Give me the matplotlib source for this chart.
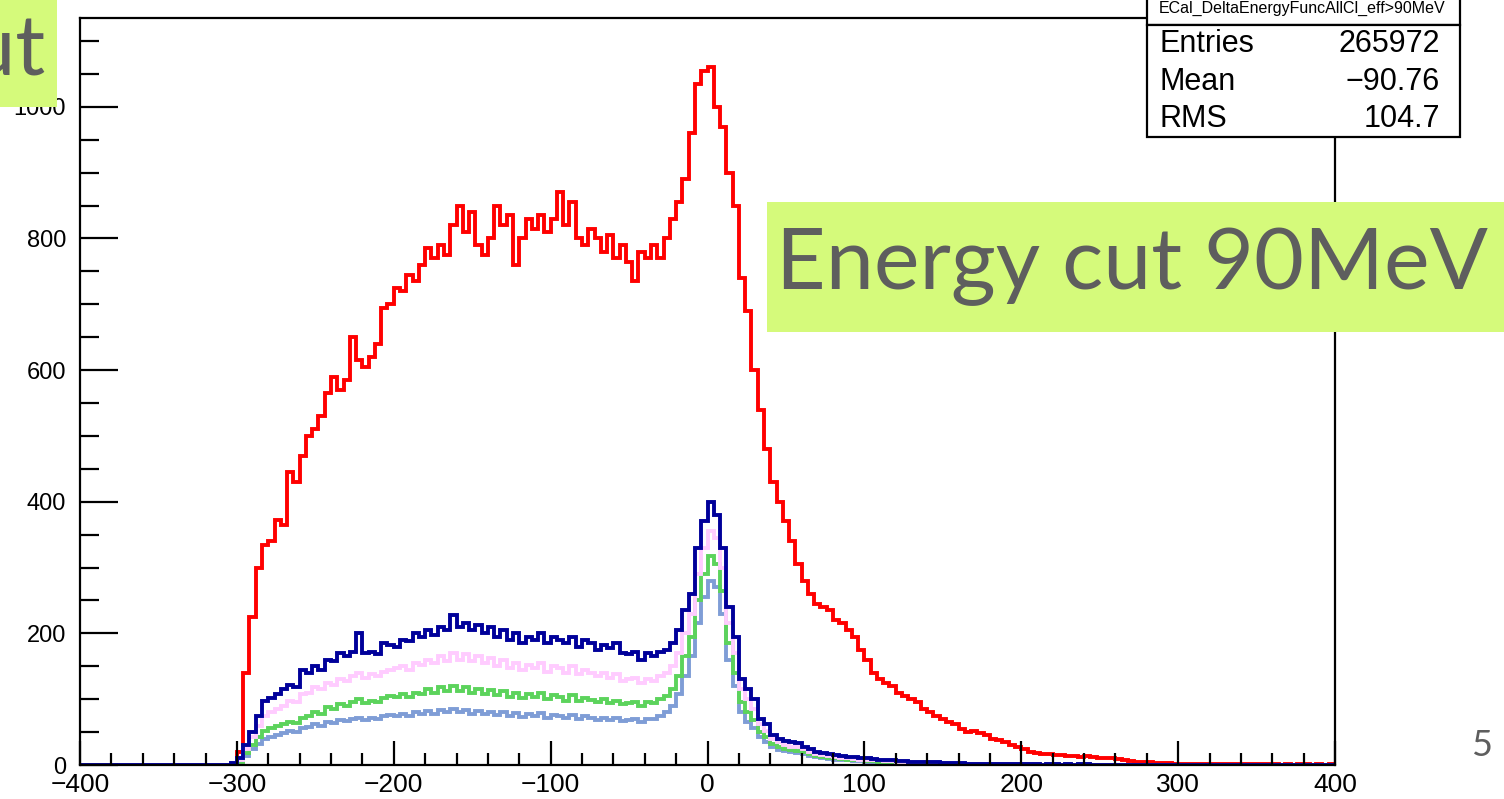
import numpy as np
import matplotlib
matplotlib.use("Agg")
import matplotlib.pyplot as plt
from matplotlib.patches import Rectangle

W, H = 1504, 799

# 200 bins of width 4 over [-400, 400]
bin_edges = np.arange(-400, 404, 4)

# Each series: first filled bin edge + counts per bin from there on
red_start = -300
red_counts = [
    20, 140, 225, 300, 335, 340, 372, 365, 445, 430, 470, 500, 510, 530, 565, 590,
    570, 585, 650, 615, 605, 620, 640, 695, 700,
    725, 720, 745, 735, 760, 785, 770, 790, 775, 820, 850, 810, 840, 790, 775, 800,
    850, 820, 835, 760, 800, 830, 815, 835, 810,
    830, 870, 820, 855, 800, 790, 815, 800, 780, 805, 770, 790, 765, 735, 780, 770,
    790, 770, 800, 830, 855, 890, 960, 1035, 1055,
    1060, 1000, 970, 900, 850, 740, 690, 600, 540, 480, 430, 400, 370, 340, 305, 280,
    260, 245, 240, 235, 220, 215, 205, 195, 175,
    160, 140, 130, 125, 120, 110, 105, 100, 95, 85, 80, 75, 70, 65, 62, 55,
    50, 52, 48, 45, 40, 38, 35, 30, 28,
    25, 20, 18, 17, 16, 15, 15, 14, 14, 12, 14, 12, 11, 10, 10, 9,
    8, 6, 5, 5, 4, 3, 3, 3, 2,
    2, 2, 1, 2, 1, 1, 2, 1, 1, 1, 1, 1, 1, 1, 1, 1, 0, 1, 0, 1, 1, 0, 1, 0, 1,
]

navy_start = -304
navy_counts = [
    3, 10, 30, 50, 75, 98, 102, 108, 115, 122, 118, 145, 140, 150, 145, 160,
    158, 170, 165, 172, 200, 170, 172, 168, 185, 182,
    180, 190, 188, 200, 195, 205, 198, 210, 205, 228, 210, 215, 205, 212, 200, 210,
    195, 205, 190, 200, 185, 195, 190, 200, 185,
    195, 190, 185, 195, 180, 190, 185, 175, 182, 178, 185, 170, 168, 172, 160, 170,
    165, 172, 175, 185, 205, 235, 260, 330, 370,
    400, 380, 330, 240, 195, 130, 115, 100, 70, 62, 45, 40, 36, 35, 33, 28,
    24, 20, 18, 16, 15, 14, 12, 12, 10,
    10, 9, 8, 8, 7, 6, 6, 5, 5, 5, 4, 4, 3, 3, 3, 3, 2, 2, 2, 2, 2, 1, 1, 1, 1,
    1, 1, 1, 0, 1, 1, 0, 1, 0, 1, 1,
]

pink_start = -304
pink_counts = [
    2, 8, 25, 42, 60, 75, 80, 85, 90, 98, 95, 108, 110, 118, 115, 125,
    122, 130, 128, 135, 140, 132, 138, 135, 142, 145,
    148, 150, 145, 155, 152, 160, 155, 165, 158, 170, 160, 168, 158, 165, 155, 162,
    150, 160, 148, 155, 145, 152, 148, 155, 142,
    150, 148, 140, 150, 138, 145, 140, 135, 140, 132, 138, 128, 130, 132, 125, 130,
    128, 135, 140, 150, 170, 200, 230, 290, 330,
    355, 345, 300, 215, 170, 115, 100, 85, 62, 52, 40, 35, 30, 28, 27, 24,
    20, 17, 15, 13, 12, 11, 10, 9, 8,
    8, 7, 7, 6, 6, 5, 5, 4, 4, 4, 3, 3, 3, 2, 2, 2, 2, 2, 1, 1, 1, 1, 1, 1, 0,
    1, 0, 1, 0, 0, 1,
]

green_start = -304
green_counts = [
    1, 5, 18, 30, 42, 52, 56, 60, 62, 66, 64, 72, 75, 80, 78, 88,
    85, 92, 90, 96, 100, 94, 98, 96, 102, 105,
    104, 108, 103, 110, 108, 115, 110, 118, 112, 120, 113, 118, 110, 116, 108, 114,
    106, 112, 104, 110, 102, 108, 104, 110, 100,
    106, 104, 98, 106, 97, 102, 99, 95, 100, 94, 98, 92, 94, 96, 90, 95,
    94, 100, 105, 115, 135, 165, 195, 250, 290,
    318, 305, 265, 185, 140, 95, 80, 68, 50, 42, 32, 28, 25, 23, 22, 19,
    16, 14, 12, 11, 10, 9, 8, 7, 7,
    6, 6, 5, 5, 4, 4, 4, 3, 3, 3, 2, 2, 2, 2, 1, 1, 1, 1, 1, 1,
]

lblue_start = -304
lblue_counts = [
    1, 4, 14, 24, 32, 40, 43, 46, 48, 52, 50, 56, 58, 62, 60, 66,
    64, 68, 67, 70, 72, 68, 72, 70, 74, 76,
    75, 78, 74, 80, 78, 82, 78, 84, 80, 85, 80, 84, 78, 82, 77, 81,
    76, 80, 75, 79, 73, 77, 75, 79, 72,
    76, 75, 71, 76, 70, 74, 72, 69, 72, 68, 71, 67, 69, 70, 66, 70,
    70, 75, 80, 90, 108, 135, 165, 215, 255,
    280, 270, 230, 160, 120, 80, 66, 56, 42, 35, 27, 23, 21, 19, 18, 16,
    14, 12, 10, 9, 8, 7, 7, 6, 6,
    5, 5, 4, 4, 4, 3, 3, 3, 2, 2, 2, 2, 1, 1, 1, 1, 1, 1,
]

x_ticks = [-400, -300, -200, -100, 0, 100, 200, 300, 400]
y_ticks = [0, 200, 400, 600, 800, 1000]

stats_title = "ECal_DeltaEnergyFuncAllCl_eff>90MeV"
stats_rows = [("Entries", "265972"), ("Mean", "\u221290.76"), ("RMS", "104.7")]


def to_bins(start, values):
    out = np.zeros(len(bin_edges) - 1)
    i0 = (start - bin_edges[0]) // 4
    out[i0:i0 + len(values)] = values
    return out


def fx(px):
    return px / W


def fy(py):
    return 1 - py / H


plt.rcParams['font.family'] = ['Liberation Sans', 'DejaVu Sans']

fig = plt.figure(figsize=(W / 100, H / 100), dpi=100)
ax = fig.add_axes([fx(80), fy(765), fx(1335) - fx(80), fy(18) - fy(765)])

series = [
    (red_start, red_counts, '#ff0000'),
    (lblue_start, lblue_counts, '#7f9dd6'),
    (green_start, green_counts, '#5cd35c'),
    (pink_start, pink_counts, '#ffccff'),
    (navy_start, navy_counts, '#00009a'),
]
for start, vals, col in series:
    ax.stairs(to_bins(start, vals), bin_edges, color=col, lw=2.8, baseline=None)

ax.set_xlim(-400, 400)
ax.set_ylim(0, 1135)
ax.set_xticks(x_ticks)
ax.set_xticklabels([str(v).replace('-', '\u2212') for v in x_ticks])
ax.set_xticks(np.arange(-400, 401, 20), minor=True)
ax.set_yticks(y_ticks)
ax.set_yticks(np.arange(0, 1101, 50), minor=True)
ax.tick_params(axis='x', which='major', direction='in', length=17, width=1.6,
               labelsize=19, pad=6, colors='black')
ax.tick_params(axis='x', which='minor', direction='in', length=9, width=1.6)
ax.tick_params(axis='y', which='major', direction='in', length=27, width=1.6,
               labelsize=17, pad=10)
ax.tick_params(axis='y', which='minor', direction='in', length=14, width=1.6)
for s in ax.spines.values():
    s.set_linewidth(1.6)

# statistics box
title_box = Rectangle((fx(1147), fy(25)), fx(1460) - fx(1147), fy(-5) - fy(25),
                      transform=fig.transFigure, facecolor='white', edgecolor='black',
                      lw=1.6, zorder=5)
stat_box = Rectangle((fx(1147), fy(137)), fx(1460) - fx(1147), fy(25) - fy(137),
                     transform=fig.transFigure, facecolor='white', edgecolor='black',
                     lw=1.6, zorder=5)
fig.add_artist(title_box)
fig.add_artist(stat_box)
fig.text(fx(1302), fy(8), stats_title, fontsize=11.5, ha='center', va='center', zorder=6)
for (lab, val), py in zip(stats_rows, [44, 82, 119]):
    fig.text(fx(1160), fy(py), lab, fontsize=22, ha='left', va='center', zorder=6)
    fig.text(fx(1440), fy(py), val, fontsize=22, ha='right', va='center', zorder=6)

# slide annotations
band = '#d5fa7b'
ink = '#5e5e5e'
fig.add_artist(Rectangle((fx(767), fy(332)), fx(1504) - fx(767), fy(202) - fy(332),
                         transform=fig.transFigure, facecolor=band, edgecolor='none', zorder=7))
fig.text(fx(776), fy(267), "Energy cut 90MeV", fontsize=62, color=ink,
         family=['Lato', 'DejaVu Sans'], ha='left', va='center', zorder=8)
fig.add_artist(Rectangle((0, fy(107)), fx(57), fy(0) - fy(107),
                         transform=fig.transFigure, facecolor=band, edgecolor='none', zorder=7))
fig.text(fx(46), fy(52), "cut", fontsize=60, color=ink,
         family=['Lato', 'DejaVu Sans'], ha='right', va='center', zorder=8)
fig.text(fx(1482), fy(745), "5", fontsize=26, color=ink,
         family=['Lato', 'DejaVu Sans'], ha='center', va='center')

fig.savefig("out.png", dpi=100)
